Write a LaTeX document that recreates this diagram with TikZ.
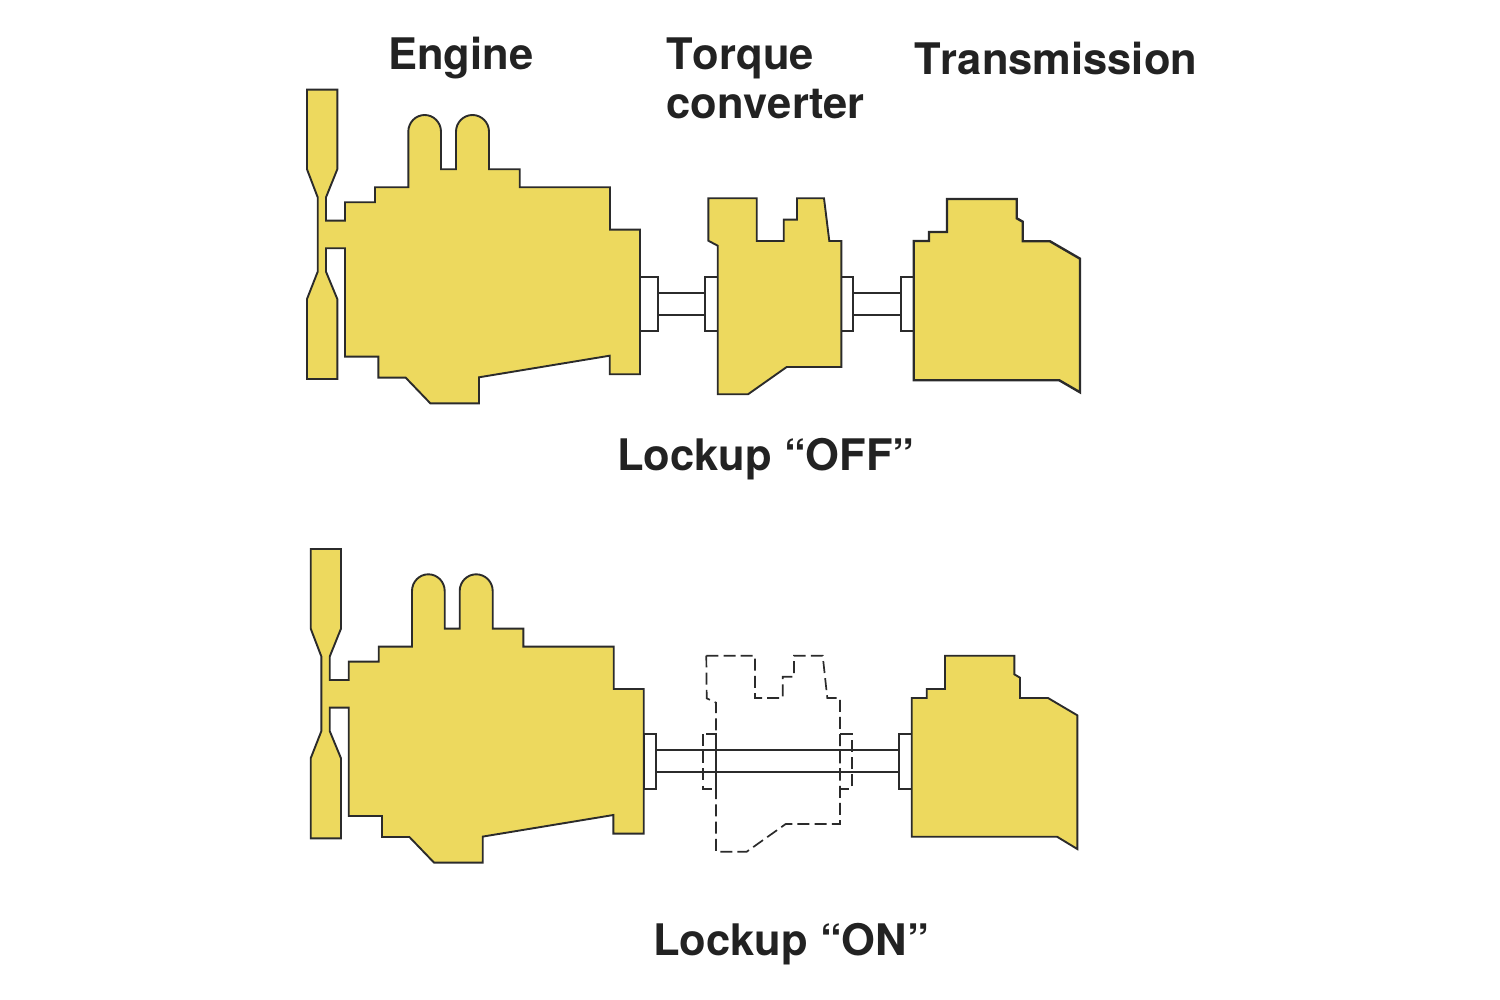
\documentclass[tikz,border=0pt]{standalone}
\usepackage{fontspec}
\setmainfont[Kerning=Off]{TeX Gyre Heros}
\definecolor{partyellow}{HTML}{EDD95E}
\definecolor{inkline}{HTML}{2B2B2B}
\definecolor{inktext}{HTML}{222222}
\tikzset{
  part/.style={draw=inkline,fill=partyellow,line width=0.95pt,line join=miter},
  thickpart/.style={part,line width=1.2pt},
  metal/.style={draw=inkline,fill=white,line width=0.95pt},
  ghost/.style={draw=inkline,line width=0.85pt,dash pattern=on 6pt off 2.6pt},
  caption/.style={font=\bfseries\fontsize{21.75}{26}\selectfont,text=inktext,inner sep=0pt,anchor=base west}
}
\newcommand{\engineoutline}[1]{%
  \draw[part,#1] (307,89.7) -- (337.3,89.7) -- (337.3,169.3) -- (326,197.3) -- (326,220.7) -- (345,220.7)
    -- (345,202.3) -- (375,202.3) -- (375,187.3) -- (408.3,187.3) -- (408.3,131.7)
    arc[start angle=180,end angle=0,x radius=16.35,y radius=-16.7]
    -- (441,169.3) -- (456,169.3) -- (456,131.7)
    arc[start angle=180,end angle=0,x radius=16.5,y radius=-16.7]
    -- (489,169.3) -- (519.7,169.3) -- (519.7,187.3) -- (610,187.3) -- (610,229.7) -- (640,229.7)
    -- (640,374.3) -- (609.7,374.3) -- (609.7,355.7) -- (479,377.3) -- (479,403.3) -- (430.3,403.3)
    -- (405.7,377.7) -- (378.3,377.7) -- (378.3,356.7) -- (345,356.7) -- (345,248.3) -- (326,248.3)
    -- (326,271.7) -- (337.3,299) -- (337.3,379) -- (307,379) -- (307,299) -- (317.7,271.7)
    -- (317.7,197.3) -- (307,169.3) -- cycle;}
\begin{document}
\begin{tikzpicture}[x=0.5pt,y=-0.5pt]
\useasboundingbox (0,0) rectangle (1500,1000);
% Lockup OFF
\draw[metal] (640,277) rectangle (658,331);
\draw[metal] (658,293.3) rectangle (705.3,314.7);
\draw[metal] (705.3,277) rectangle (717.7,331);
\draw[metal] (841.3,277) rectangle (853.3,331);
\draw[metal] (853.3,293.3) rectangle (901,314.7);
\draw[metal] (901,277) rectangle (913.7,331);
\engineoutline{}
\draw[part] (708.3,198.3) -- (756.7,198.3) -- (756.7,241) -- (783.7,241) -- (783.7,219.7) -- (797,219.7)
  -- (797,198.3) -- (824,198.3) -- (829.3,241) -- (841.3,241) -- (841.3,367) -- (786.7,367)
  -- (748,394.3) -- (717.7,394.3) -- (717.7,245.7) -- (708.3,240.7) -- cycle;
\draw[thickpart] (913.7,241) -- (929,241) -- (929,232) -- (947,232) -- (947,199) -- (1016.7,199)
  -- (1016.7,218.3) -- (1022.7,221.7) -- (1022.7,241.3) -- (1050,241.3) -- (1080,258.7)
  -- (1080,392.3) -- (1059.3,380.3) -- (913.7,380.3) -- cycle;
% Lockup ON
\draw[metal] (643.7,734) rectangle (656,788.7);
\draw[metal] (899.3,734) rectangle (911.7,788.7);
\draw[metal] (656,750.3) rectangle (899.3,772);
\begin{scope}[shift={(3.7,459.3)}]
\engineoutline{}
\end{scope}
\draw[ghost] (706.3,655.7) -- (755,655.7) -- (755,698) -- (782.7,698) -- (782.7,676.7) -- (794,676.7)
  -- (794,655.7) -- (822.7,655.7) -- (827.3,698) -- (840,698) -- (840,824) -- (785.7,824)
  -- (746.7,851.7) -- (716,851.7) -- (716,702.7) -- (706.7,698.3) -- cycle;
\draw[ghost] (703.3,734) rectangle (716,788.7);
\draw[ghost] (840,734) rectangle (851.7,788.7);
\draw[part] (911.7,698) -- (926.7,698) -- (926.7,689) -- (945,689) -- (945,655.7) -- (1014.3,655.7)
  -- (1014.3,674.3) -- (1020,677.7) -- (1020,698) -- (1048,698) -- (1077.3,715.3)
  -- (1077.3,849) -- (1057,836.7) -- (911.7,836.7) -- cycle;
% Captions
\node[caption] (engine) at (388,70) {Engine};
\node[caption] (torque) at (666,70) {Torque};
\node[caption] (converter) at (666,119) {converter};
\node[caption] (transmission) at (914,75) {Transmission};
\node[caption] (lockupoff) at (617,470) {Lockup “OFF”};
\node[caption] (lockupon) at (653,955) {Lockup “ON”};
\end{tikzpicture}
\end{document}
